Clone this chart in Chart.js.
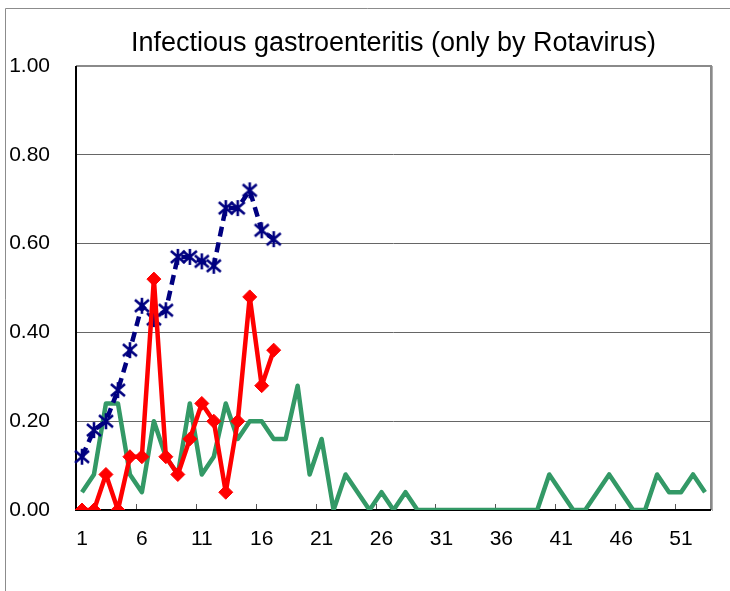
<!DOCTYPE html>
<html>
<head>
<meta charset="utf-8">
<script src="https://cdn.jsdelivr.net/npm/chart.js@4/dist/chart.umd.min.js"></script>
<style>
html,body{margin:0;padding:0;background:#fff;}
#wrap{position:relative;width:730px;height:591px;}
canvas{display:block;}
</style>
</head>
<body>
<div id="wrap"><canvas id="c" width="730" height="591"></canvas></div>
<script>
const titleText = 'Infectious gastroenteritis (only by Rotavirus)';
const weeks = [];
for (let w = 1; w <= 53; w++) weeks.push(String(w));
const blueSeries = [0.12,0.18,0.20,0.27,0.36,0.46,0.43,0.45,0.57,0.57,0.56,0.55,0.68,0.68,0.72,0.63,0.61];
const redSeries = [0,0,0.08,0,0.12,0.12,0.52,0.12,0.08,0.16,0.24,0.20,0.04,0.20,0.48,0.28,0.36];
const greenSeries = [0.04,0.08,0.24,0.24,0.08,0.04,0.20,0.12,0.08,0.24,
  0.08,0.12,0.24,0.16,0.20,0.20,0.16,0.16,0.28,0.08,
  0.16,0,0.08,0.04,0,0.04,0,0.04,0,0,
  0,0,0,0,0,0,0,0,0,0.08,
  0.04,0,0,0.04,0.08,0.04,0,0,0.08,0.04,
  0.04,0.08,0.04];
const yTicks = [0,0.2,0.4,0.6,0.8,1.0];

const FONT = "'Liberation Sans', Arial, sans-serif";

// asterisk marker (x with vertical bar)
const star = document.createElement('canvas');
star.width = 18; star.height = 18;
(function(){
  const g = star.getContext('2d');
  g.strokeStyle = '#000080'; g.lineWidth = 2.6; g.lineCap = 'butt';
  g.beginPath();
  g.moveTo(2,3); g.lineTo(16,15);
  g.moveTo(16,3); g.lineTo(2,15);
  g.moveTo(9,1); g.lineTo(9,17);
  g.stroke();
})();

const framePlugin = {
  id: 'frame',
  beforeDraw(chart) {
    const ctx = chart.ctx;
    ctx.save();
    ctx.strokeStyle = '#8c8c8c';
    ctx.lineWidth = 1;
    ctx.beginPath();
    ctx.moveTo(5.5, 591); ctx.lineTo(5.5, 8.5); ctx.lineTo(730, 8.5);
    ctx.stroke();
    ctx.restore();
  },
  beforeDatasetsDraw(chart) {
    const ctx = chart.ctx, a = chart.chartArea, xs = chart.scales.x;
    ctx.save();
    ctx.strokeStyle = '#8a8a8a';
    ctx.lineWidth = 2;
    ctx.beginPath();
    ctx.moveTo(a.left, a.top); ctx.lineTo(a.right, a.top); ctx.lineTo(a.right, a.bottom);
    ctx.stroke();
    ctx.lineWidth = 1;
    ctx.strokeStyle = '#b0b0b0';
    ctx.beginPath();
    ctx.moveTo(a.right + 1.5, a.top); ctx.lineTo(a.right + 1.5, a.bottom + 1);
    ctx.stroke();
    const step = xs.getPixelForValue(1) - xs.getPixelForValue(0);
    ctx.strokeStyle = '#555';
    ctx.lineWidth = 1;
    ctx.beginPath();
    for (let i = 5; i < weeks.length; i += 5) {
      const x = Math.round(xs.getPixelForValue(i) - step / 2) + 0.5;
      ctx.moveTo(x, a.bottom); ctx.lineTo(x, a.bottom - 6);
    }
    ctx.stroke();
    ctx.strokeStyle = '#000';
    ctx.lineWidth = 2;
    ctx.beginPath();
    ctx.moveTo(a.left, a.top); ctx.lineTo(a.left, a.bottom); ctx.lineTo(a.right, a.bottom);
    ctx.stroke();
    ctx.restore();
  },
  afterDraw(chart) {
    const ctx = chart.ctx, a = chart.chartArea;
    ctx.save();
    ctx.fillStyle = '#000';
    ctx.font = "27px " + FONT;
    ctx.textAlign = 'center';
    ctx.textBaseline = 'middle';
    ctx.fillText(titleText, (a.left + a.right) / 2, 44);
    ctx.restore();
  }
};

new Chart(document.getElementById('c'), {
  type: 'line',
  data: {
    labels: weeks,
    datasets: [
      {
        label: 'red',
        data: redSeries,
        borderColor: '#ff0000',
        backgroundColor: '#ff0000',
        borderWidth: 4.5,
        borderJoinStyle: 'round',
        pointStyle: 'rectRot',
        pointRadius: 7,
        pointBorderWidth: 1,
        pointBackgroundColor: '#ff0000',
        pointBorderColor: '#ff0000',
        tension: 0
      },
      {
        label: 'blue',
        data: blueSeries,
        borderColor: '#000080',
        backgroundColor: '#000080',
        borderWidth: 4.5,
        borderDash: [10, 6],
        pointStyle: star,
        pointRadius: 9,
        tension: 0
      },
      {
        label: 'green',
        data: greenSeries,
        borderColor: '#339966',
        backgroundColor: '#339966',
        borderWidth: 4.5,
        pointRadius: 0,
        borderJoinStyle: 'round',
        tension: 0
      }
    ]
  },
  options: {
    responsive: false,
    animation: false,
    events: [],
    layout: { padding: { top: 66, left: 0, right: 19, bottom: 0 } },
    plugins: {
      legend: { display: false },
      title: { display: false },
      tooltip: { enabled: false }
    },
    scales: {
      x: {
        type: 'category',
        offset: true,
        afterFit(s) { s.height = 81; },
        grid: { display: true, drawOnChartArea: false, drawTicks: false, color: 'rgba(0,0,0,0)', offset: true },
        border: { display: false },
        ticks: {
          autoSkip: false,
          maxRotation: 0,
          padding: 17,
          color: '#000',
          font: { family: FONT, size: 21 },
          callback(v, i) { return i % 5 === 0 ? weeks[i] : ''; }
        }
      },
      y: {
        min: 0,
        max: 1,
        afterFit(s) { s.width = 76; },
        afterBuildTicks(s) { s.ticks = yTicks.map(v => ({ value: v })); },
        grid: { color: '#666', lineWidth: 1, drawTicks: false },
        border: { display: false },
        ticks: {
          padding: 26,
          color: '#000',
          font: { family: FONT, size: 21 },
          callback(v) { return Number(v).toFixed(2); }
        }
      }
    }
  },
  plugins: [framePlugin]
});
</script>
</body>
</html>
